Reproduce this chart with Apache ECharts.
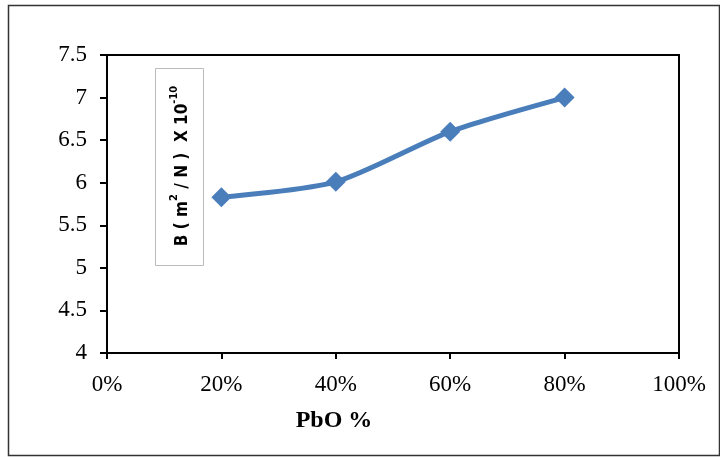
<!DOCTYPE html>
<html>
<head>
<meta charset="utf-8">
<script src="https://cdn.jsdelivr.net/npm/echarts@6/dist/echarts.min.js"></script>
<style>html,body{margin:0;padding:0;background:#fff}#c{width:720px;height:457px}</style>
</head>
<body>
<div id="c"></div>
<script>
const pbo = [0.2, 0.4, 0.6, 0.8];
const bValues = [5.83, 6.01, 6.6, 7.0];
const xTicks = [0, 0.2, 0.4, 0.6, 0.8, 1.0];
const yTicks = [4, 4.5, 5, 5.5, 6, 6.5, 7, 7.5];

const chart = echarts.init(document.getElementById('c'), null, {renderer: 'canvas'});
const serif = '"Liberation Serif", "Times New Roman", serif';
const narrow = '"Liberation Sans Narrow", "DejaVu Sans Condensed", Arial, sans-serif';
chart.setOption({
  animation: false,
  grid: {left: 107, top: 55, width: 572, height: 298, show: true, borderColor: '#000', borderWidth: 2, backgroundColor: 'transparent'},
  xAxis: {
    type: 'value', min: 0, max: 1, interval: 0.2,
    axisLine: {show: true, onZero: false, lineStyle: {color: '#000', width: 2}},
    axisTick: {show: true, length: 6, lineStyle: {color: '#000', width: 2}},
    splitLine: {show: false},
    axisLabel: {margin: 20, color: '#000', fontFamily: serif, fontSize: 23,
      formatter: v => Math.round(v * 100) + '%'}
  },
  yAxis: {
    type: 'value', min: 4, max: 7.5, interval: 0.5,
    axisLine: {show: true, lineStyle: {color: '#000', width: 2}},
    axisTick: {show: true, length: 7, lineStyle: {color: '#000', width: 2}},
    splitLine: {show: false},
    axisLabel: {margin: 20, color: '#000', fontFamily: serif, fontSize: 23,
      formatter: v => String(v)}
  },
  series: [{
    type: 'line',
    data: pbo.map((x, i) => [x, bValues[i]]),
    smooth: 0.25,
    symbol: 'diamond', symbolSize: 20,
    lineStyle: {color: '#4a7ebb', width: 5},
    itemStyle: {color: '#4a7ebb'}
  }],
  graphic: [
    {type: 'rect', shape: {x: 8.5, y: 5.5, width: 711, height: 450}, style: {fill: 'none', stroke: '#333', lineWidth: 1.5}, silent: true, z: -1},
    {type: 'rect', shape: {x: 155.5, y: 68.5, width: 48, height: 197}, style: {fill: '#fff', stroke: '#bbb', lineWidth: 1}, z: 10},
    {type: 'text', x: 180, y: 166, rotation: Math.PI / 2, z: 11,
      style: {
        text: '{a|B ( m}{s|2}{a| / N )  X 10}{s|-10}',
        align: 'center', verticalAlign: 'middle',
        rich: {
          a: {fontFamily: narrow, fontWeight: 'bold', fontSize: 17, fill: '#000', verticalAlign: 'bottom', lineHeight: 22},
          s: {fontFamily: narrow, fontWeight: 'bold', fontSize: 11, fill: '#000', verticalAlign: 'top', lineHeight: 22}
        }
      }},
    {type: 'text', x: 334, y: 421, z: 11,
      style: {text: 'PbO %', fontFamily: serif, fontWeight: 'bold', fontSize: 24, fill: '#000', align: 'center', verticalAlign: 'middle'}}
  ]
});
</script>
</body>
</html>
